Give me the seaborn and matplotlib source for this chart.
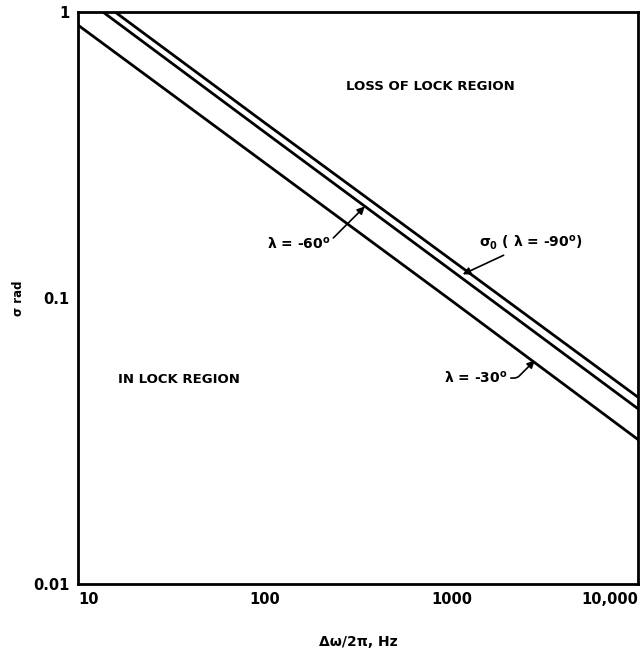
import numpy as np
import pandas as pd
import matplotlib
matplotlib.use("Agg")
import matplotlib.pyplot as plt
import seaborn as sns

# Data (frequency Hz, sigma rad)
freq_90 = [15.8, 100, 1000, 10000]
sigma_90 = [1.0, 0.41, 0.136, 0.045]
freq_60 = [13.6, 100, 1000, 10000]
sigma_60 = [1.0, 0.38, 0.125, 0.041]
freq_30 = [10, 100, 1000, 10000]
sigma_30 = [0.90, 0.297, 0.098, 0.032]

xticks = [10, 100, 1000, 10000]
xticklabels = ["10", "100", "1000", "10,000"]
yticks = [0.01, 0.1, 1]
yticklabels = ["0.01", "0.1", "1"]

df = pd.concat([
    pd.DataFrame({"f": freq_90, "s": sigma_90, "curve": "-90"}),
    pd.DataFrame({"f": freq_60, "s": sigma_60, "curve": "-60"}),
    pd.DataFrame({"f": freq_30, "s": sigma_30, "curve": "-30"}),
])

sns.set_theme(style="white")
plt.rcParams["font.family"] = ["DejaVu Sans"]
plt.rcParams["font.weight"] = "bold"
plt.rcParams["text.color"] = "black"
plt.rcParams["mathtext.fontset"] = "dejavusans"
plt.rcParams["mathtext.default"] = "bf"

fig = plt.figure(figsize=(6.43, 6.51), dpi=100)
ax = fig.add_axes([78 / 643, 1 - 584 / 651, 560 / 643, 572 / 651])

sns.lineplot(data=df, x="f", y="s", units="curve", estimator=None,
             color="black", lw=2.0, ax=ax, legend=False, sort=False)

ax.set_xscale("log")
ax.set_yscale("log")
ax.set_xlim(10, 10000)
ax.set_ylim(0.01, 1)

ax.set_xticks(xticks)
ax.set_xticklabels(xticklabels)
ax.set_yticks(yticks)
ax.set_yticklabels(yticklabels)
ax.minorticks_off()
ax.tick_params(axis="both", direction="in", length=8, width=1.5,
               labelsize=10.5, colors="black", labelcolor="black", pad=6)
for lab in ax.get_xticklabels() + ax.get_yticklabels():
    lab.set_fontweight("bold")
xl = ax.get_xticklabels()
xl[0].set_ha("left")
xl[-1].set_ha("right")

for sp in ax.spines.values():
    sp.set_color("black")
    sp.set_linewidth(2.0)

ax.set_xlabel("Δω/2π, Hz", fontsize=10, fontweight="bold", labelpad=20,
              color="black")
ax.set_ylabel("σ rad", fontsize=8.5, fontweight="bold", color="black")
ax.yaxis.set_label_coords(-0.094, 0.5)

# Region labels
ax.text(0.63, 0.87, "LOSS OF LOCK REGION", transform=ax.transAxes,
        ha="center", va="center", fontsize=9.5, fontweight="bold")
ax.text(0.18, 0.357, "IN LOCK REGION", transform=ax.transAxes,
        ha="center", va="center", fontsize=9.5, fontweight="bold")

arrow = dict(arrowstyle="-|>", color="black", lw=1.2, mutation_scale=11,
             shrinkA=0, shrinkB=0)

# sigma_0 (lambda = -90)
ax.annotate("σ$_0$ ( λ = -90$^o$)", xy=(1150, 0.121), xytext=(1400, 0.156),
            fontsize=10, fontweight="bold", ha="left", va="center",
            arrowprops=dict(arrow, connectionstyle="arc3"))
# lambda = -60
ax.annotate("λ = -60$^o$", xy=(344, 0.209), xytext=(224, 0.155),
            fontsize=10, fontweight="bold", ha="right", va="center",
            arrowprops=dict(arrow, connectionstyle="angle,angleA=0,angleB=45,rad=3"))
# lambda = -30
ax.annotate("λ = -30$^o$", xy=(2800, 0.0605), xytext=(2000, 0.0525),
            fontsize=10, fontweight="bold", ha="right", va="center",
            arrowprops=dict(arrow, connectionstyle="angle,angleA=0,angleB=45,rad=3"))

fig.savefig("out.png", dpi=100, facecolor="white")
